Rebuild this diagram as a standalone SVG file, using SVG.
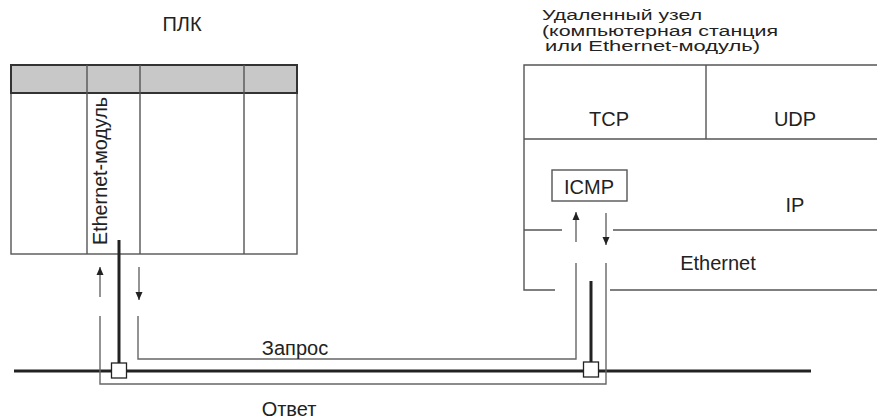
<svg xmlns="http://www.w3.org/2000/svg" width="877" height="419" viewBox="0 0 877 419">
<style>
text{font-family:"Liberation Sans",Arial,sans-serif;font-size:20px;fill:#222}
.title{font-size:14px}
.thin{stroke:#666;stroke-width:1.4;fill:none}
.box{stroke:#555;stroke-width:1.4;fill:none}
.thick{stroke:#222;stroke-width:3;fill:none}
.hdr{stroke:#333;stroke-width:2;fill:#c8c8c8}
.sq{fill:#fff;stroke:#222;stroke-width:1.3}
</style>
<defs>
<marker id="ah" viewBox="0 0 8 10" refX="8" refY="5" markerWidth="8" markerHeight="10" markerUnits="userSpaceOnUse" orient="auto">
<path d="M0,1.5 L8,5 L0,8.5 Z" fill="#222"/>
</marker>
</defs>

<g id="plc">
<text x="182" y="31" text-anchor="middle">ПЛК</text>
<rect x="11" y="93" width="286" height="161" class="box" stroke="#777"/>
<rect x="11" y="65" width="286" height="28" class="hdr"/>
<line x1="87" y1="65" x2="87" y2="254" class="box"/>
<line x1="140" y1="65" x2="140" y2="254" class="box"/>
<line x1="244" y1="65" x2="244" y2="254" class="box"/>
<text transform="translate(107,245) rotate(-90)" textLength="148" lengthAdjust="spacingAndGlyphs">Ethernet-модуль</text>
</g>

<g id="remote">
<text class="title" x="542" y="20" textLength="160" lengthAdjust="spacingAndGlyphs">Удаленный узел</text>
<text class="title" x="542" y="35.7" textLength="236" lengthAdjust="spacingAndGlyphs">(компьютерная станция</text>
<text class="title" x="545" y="51.4" textLength="215" lengthAdjust="spacingAndGlyphs">или Ethernet-модуль)</text>
<path d="M877,65 H524 V290 H555 M610,290 H877" class="box"/>
<line x1="524" y1="139" x2="877" y2="139" class="box"/>
<line x1="706" y1="65" x2="706" y2="139" class="box"/>
<path d="M524,230 H562 M613,230 H877" class="box"/>
<text x="609" y="126" text-anchor="middle">TCP</text>
<text x="795" y="126" text-anchor="middle">UDP</text>
<text x="795" y="212" text-anchor="middle">IP</text>
<text x="718" y="270" text-anchor="middle">Ethernet</text>
</g>

<g id="icmp">
<rect x="552" y="170" width="75" height="31" class="box"/>
<text x="589" y="194" text-anchor="middle">ICMP</text>
</g>

<g id="connectors">
<line x1="14" y1="371" x2="811" y2="371" class="thick"/>
<line x1="119" y1="240" x2="119" y2="363" class="thick"/>
<line x1="591" y1="281" x2="591" y2="362" class="thick"/>
<line x1="100" y1="297" x2="100" y2="267" class="thin" marker-end="url(#ah)"/>
<line x1="139" y1="267" x2="139" y2="300" class="thin" marker-end="url(#ah)"/>
<line x1="576" y1="242" x2="576" y2="212" class="thin" marker-end="url(#ah)"/>
<line x1="606" y1="213" x2="606" y2="245" class="thin" marker-end="url(#ah)"/>
<path d="M138,316 V359 H576 V263" class="thin"/>
<path d="M100,316 V384 H606 V263" class="thin"/>
<rect x="111.5" y="363" width="15" height="15" class="sq"/>
<rect x="583.5" y="362" width="15" height="15" class="sq"/>
<text x="295" y="355" text-anchor="middle">Запрос</text>
<text x="289" y="416" text-anchor="middle">Ответ</text>
</g>
</svg>
